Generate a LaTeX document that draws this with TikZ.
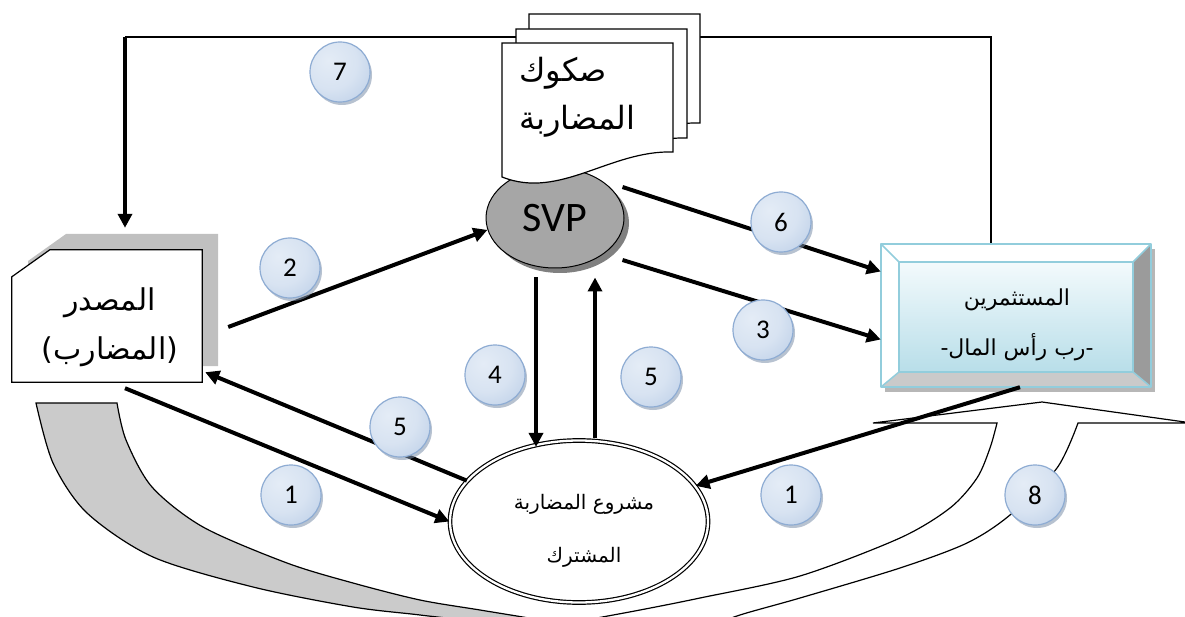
\documentclass[tikz,border=0pt]{standalone}
\usepackage{fontspec}
\usetikzlibrary{arrows.meta,calc,shapes.geometric}
\TeXXeTstate=1
\newfontfamily\arabicfont[Script=Arabic]{DejaVu Sans}
\newfontfamily\numfont{Carlito}

\definecolor{bubA}{HTML}{E4ECF6}
\definecolor{bubB}{HTML}{B3C8E4}
\definecolor{bubEdge}{HTML}{8EACD3}
\definecolor{bubShadow}{HTML}{7D90AB}
\definecolor{svpFill}{HTML}{A6A6A6}
\definecolor{svpShadow}{HTML}{808080}
\definecolor{bandGray}{HTML}{CBCBCB}
\definecolor{invEdge}{HTML}{92CDDC}
\definecolor{invTop}{HTML}{F3FAFC}
\definecolor{invBottom}{HTML}{B8DEE9}
\definecolor{bevelDark}{HTML}{9B9B9B}
\definecolor{bevelLight}{HTML}{CACACA}
\definecolor{srcShadow}{HTML}{C0C0C0}

\pgfdeclareradialshading{bubble}{\pgfpoint{-10bp}{10bp}}{%
  color(0bp)=(bubA); color(22bp)=(bubA!75!bubB); color(48bp)=(bubB); color(100bp)=(bubB)}

% numbered step marker with its soft drop shadow
\newcommand\stepmark[3]{%
  \fill[bubShadow, opacity=0.55] ($#2+(2,3)$) circle (30pt);
  \node[marker] (#1) at #2 {#3};}

\begin{document}
\begin{tikzpicture}[x=1pt, y=-1pt,
  arr/.style={line width=4pt, -{Triangle[length=14pt,width=14pt]}},
  thinline/.style={line width=1.5pt},
  page/.style={draw, line width=1.2pt, fill=white},
  band/.style={draw, line width=1.2pt},
  marker/.style={circle, minimum size=60pt, inner sep=0pt, shading=bubble,
    draw=bubEdge, line width=1.2pt, font=\numfont\fontsize{27}{27}\selectfont},
  txt/.style={inner sep=0pt, align=center},
  invedge/.style={draw=invEdge, line width=1.5pt, line join=round}]

\useasboundingbox (0,0) rectangle (1185,617);
\clip (0,0) rectangle (1185,617);
\fill[white] (0,0) rectangle (1185,617);

% ---- large curved return arrow (8) ----
\filldraw[band, fill=bandGray] (36,403) -- (117,403)
  -- plot[smooth] coordinates {(117,403) (126,440) (152,487) (203,527) (287,563)
      (353,583) (420,600) (480,610) (540,620) (600,632)}
  -- plot[smooth] coordinates {(560,645) (470,622) (420,615) (353,607) (253,587)
      (153,557) (87,513) (53,463) (36,403)}
  -- cycle;
\filldraw[band, fill=white]
  plot[smooth] coordinates {(575,622) (640,610) (700,598) (800,576) (900,538)
      (950,508) (977,478) (990,448) (997,423)}
  -- (873,423) -- (1042,402) -- (1192,423) -- (1078,423)
  -- plot[smooth] coordinates {(1078,423) (1057,468) (1010,515) (967,543) (900,568)
      (800,598) (740,615) (700,630)}
  -- cycle;

% ---- named shapes ----
\node[minimum width=190pt, minimum height=132pt, inner sep=0pt] (src) at (107,316) {};
\node[minimum width=270pt, minimum height=143pt, inner sep=0pt] (inv) at (1016,315.5) {};
\coordinate (c7top) at (125,37);

% ---- link from investors back to the issuer (7) ----
\draw[thinline] ($(inv.north)+(-25,0)$) |- (c7top);

% ---- certificate stack ----
\begin{scope}[shift={(27,-29)}]
  \draw[page] (502,43) -- (673,43) -- (673,152) .. controls (610,150) and (560,200) .. (502,177) -- cycle;
\end{scope}
\begin{scope}[shift={(14,-14)}]
  \draw[page] (502,43) -- (673,43) -- (673,152) .. controls (610,150) and (560,200) .. (502,177) -- cycle;
\end{scope}

% ---- SVP ----
\fill[svpShadow] (560,223) ellipse [x radius=69pt, y radius=50pt];
\node[ellipse, minimum width=138pt, minimum height=100pt, inner sep=0pt, fill=svpFill,
  draw, line width=1pt, font=\numfont\fontsize{42}{42}\selectfont] (svp) at (555,218) {SVP};

\draw[page] (502,43) -- (673,43) -- (673,152) .. controls (610,150) and (560,200) .. (502,177) -- cycle;
\node[txt, align=left, anchor=west, font=\arabicfont\fontsize{32}{48}\selectfont] (docT) at (519,97)
  {\beginR صكوك\endR\\\beginR المضاربة\endR};

% ---- issuer (mudarib) ----
\fill[srcShadow] (28,261) -- (66,234) -- (218,234) -- (218,366) -- (28,366) -- cycle;
\draw[page] ($(src.north west)+(0,27)$) -- ($(src.north west)+(38,0)$) -- (src.north east)
  -- (src.south east) -- (src.south west) -- cycle;
\node[txt, font=\arabicfont\fontsize{30}{49}\selectfont] (srcT) at (110,327)
  {\beginR المصدر\endR\\\beginR(المضارب)\endR};

% ---- investors (bevelled box) ----
\fill[gray!70, opacity=0.8] (885,249) rectangle (1155,392);
\fill[white] (881,244) -- (1151,244) -- (1133,262) -- (899,262) -- cycle;
\fill[white] (881,244) -- (899,262) -- (899,372) -- (881,387) -- cycle;
\fill[bevelDark] (1151,244) -- (1151,387) -- (1133,372) -- (1133,262) -- cycle;
\fill[bevelLight] (881,387) -- (1151,387) -- (1133,372) -- (899,372) -- cycle;
\shade[top color=invTop, bottom color=invBottom] (899,262) rectangle (1133,372);
\draw[invedge] (881,244) rectangle (1151,387);
\draw[invedge] (899,262) rectangle (1133,372);
\draw[invedge] (881,244) -- (899,262) (1151,244) -- (1133,262)
  (881,387) -- (899,372) (1151,387) -- (1133,372);
\node[txt, font=\arabicfont\fontsize{22}{50}\selectfont] (invT) at (1017,325)
  {\beginR المستثمرين\endR\\-\beginR رب رأس المال\endR-};

% ---- joint mudaraba project ----
\node[ellipse, minimum width=258pt, minimum height=162pt, inner sep=0pt, draw,
  line width=1.2pt, double, double distance=2.3pt, fill=white] (proj) at (579,521.5) {};
\node[txt, font=\arabicfont\fontsize{20}{53}\selectfont] (projT) at (584,531)
  {\beginR مشروع المضاربة\endR\\\beginR المشترك\endR};

% ---- flows ----
\draw[arr] (c7top) -- ($(src.north)+(18,-22)$);
\draw[arr] ($(src.south)+(18,6)$) -- (proj.west);
\draw[arr] ($(src.east)+(26,11)$) -- (svp.190);
\draw[arr] ($(svp.east)+(-2,-31)$) -- ($(inv.west)+(0,-44)$);
\draw[arr] ($(svp.east)+(-2,42)$) -- ($(inv.west)+(0,24)$);
\draw[arr] ($(svp.south)+(-19,9)$) -- ($(proj.north)+(-43,7)$);
\draw[arr] ($(proj.north)+(16,-2)$) -- ($(svp.south)+(40,9)$);
\draw[arr] (proj.160) -- ($(src.south east)+(3,-10)$);
\draw[arr] ($(inv.south)+(4,0)$) -- (proj.17);

% ---- step markers ----
\stepmark{m7}{(340,72)}{7}
\stepmark{m2}{(290,268)}{2}
\stepmark{m6}{(781,222)}{6}
\stepmark{m3}{(763,330)}{3}
\stepmark{m4}{(495,375)}{4}
\stepmark{m5a}{(651,377)}{5}
\stepmark{m5b}{(400,427)}{5}
\stepmark{m1a}{(291,495)}{1}
\stepmark{m1b}{(791,495)}{1}
\stepmark{m8}{(1035,495)}{8}
\end{tikzpicture}
\end{document}
